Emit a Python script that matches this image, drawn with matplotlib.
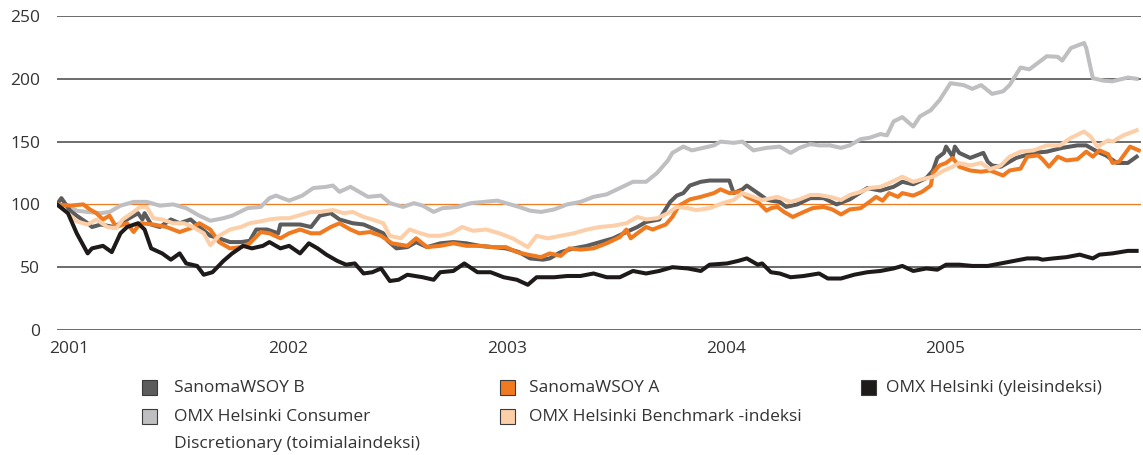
import matplotlib.pyplot as plt
from matplotlib.patches import Rectangle

plt.rcParams['font.family'] = ['Open Sans', 'DejaVu Sans']

# index values (2001 = 100), time in fractional years
omx_t = [2001.00, 2001.05, 2001.09, 2001.14, 2001.16, 2001.21, 2001.25, 2001.29, 2001.32, 2001.37,
         2001.40, 2001.43, 2001.48, 2001.52, 2001.56, 2001.59, 2001.64, 2001.67, 2001.71, 2001.76,
         2001.80, 2001.85, 2001.89, 2001.94, 2001.97, 2002.02, 2002.06, 2002.11, 2002.15, 2002.19,
         2002.23, 2002.28, 2002.32, 2002.36, 2002.40, 2002.44, 2002.48, 2002.52, 2002.56, 2002.60,
         2002.67, 2002.72, 2002.75, 2002.81, 2002.86, 2002.92, 2002.98, 2003.04, 2003.10, 2003.15,
         2003.19, 2003.27, 2003.33, 2003.39, 2003.45, 2003.51, 2003.57, 2003.63, 2003.69, 2003.75,
         2003.81, 2003.88, 2003.94, 2003.98, 2004.06, 2004.11, 2004.15, 2004.20, 2004.22, 2004.26,
         2004.30, 2004.35, 2004.41, 2004.48, 2004.52, 2004.58, 2004.64, 2004.70, 2004.76, 2004.82,
         2004.86, 2004.91, 2004.97, 2005.02, 2005.06, 2005.12, 2005.18, 2005.25, 2005.31, 2005.37,
         2005.43, 2005.48, 2005.50, 2005.55, 2005.61, 2005.67, 2005.73, 2005.76, 2005.82, 2005.89,
         2005.93]
omx_v = [100, 93, 77, 61, 65, 67, 62, 77, 82, 85,
         80, 65, 61, 56, 61, 53, 51, 44, 46, 55,
         61, 67, 65, 67, 70, 65, 67, 61, 69, 65,
         60, 55, 52, 53, 45, 46, 49, 39, 40, 44,
         42, 40, 46, 47, 53, 46, 46, 42, 40, 36,
         42, 42, 43, 43, 45, 42, 42, 47, 45, 47,
         50, 49, 47, 52, 53, 55, 57, 52, 53, 46,
         45, 42, 43, 45, 41, 41, 44, 46, 47, 49,
         51, 47, 49, 48, 52, 52, 51, 51, 53, 55,
         57, 57, 56, 57, 58, 60, 57, 60, 61, 63,
         63]

cd_t = [2001.00, 2001.05, 2001.09, 2001.14, 2001.20, 2001.24, 2001.29, 2001.35, 2001.41, 2001.47,
        2001.53, 2001.59, 2001.65, 2001.70, 2001.76, 2001.80, 2001.87, 2001.93, 2001.97, 2002.00,
        2002.06, 2002.12, 2002.17, 2002.23, 2002.26, 2002.29, 2002.34, 2002.38, 2002.42, 2002.48,
        2002.52, 2002.58, 2002.63, 2002.67, 2002.72, 2002.76, 2002.83, 2002.89, 2002.95, 2003.01,
        2003.07, 2003.11, 2003.16, 2003.21, 2003.27, 2003.33, 2003.39, 2003.45, 2003.51, 2003.57,
        2003.63, 2003.69, 2003.74, 2003.79, 2003.81, 2003.86, 2003.90, 2003.95, 2004.00, 2004.03,
        2004.09, 2004.13, 2004.18, 2004.24, 2004.30, 2004.35, 2004.39, 2004.44, 2004.48, 2004.53,
        2004.58, 2004.62, 2004.67, 2004.71, 2004.76, 2004.79, 2004.82, 2004.86, 2004.91, 2004.94,
        2004.99, 2005.03, 2005.08, 2005.14, 2005.18, 2005.22, 2005.27, 2005.32, 2005.35, 2005.40,
        2005.44, 2005.52, 2005.57, 2005.59, 2005.63, 2005.69, 2005.70, 2005.73, 2005.78, 2005.82,
        2005.89, 2005.93]
cd_v = [100, 99, 95, 94, 93, 94, 99, 102, 102, 99,
        100, 97, 91, 87, 89, 91, 97, 98, 105, 107,
        103, 107, 113, 114, 115, 110, 114, 110, 106, 107,
        101, 98, 101, 99, 94, 97, 98, 101, 102, 103,
        100, 98, 95, 94, 96, 100, 102, 106, 108, 113,
        118, 118, 125, 135, 141, 146, 143, 145, 147, 150,
        149, 150, 143, 145, 146, 141, 145, 148, 147, 147,
        145, 147, 152, 153, 156, 155, 166, 169.5, 162, 170,
        175, 183, 196.5, 195, 192, 195, 188, 190, 195, 209,
        207.5, 218, 217.5, 214.5, 224.5, 228.5, 224.5, 200.5, 198.5, 198,
        201, 200]

sw_b_t = [2001.00, 2001.02, 2001.06, 2001.09, 2001.14, 2001.16, 2001.20, 2001.26, 2001.30, 2001.35,
          2001.37, 2001.39, 2001.40, 2001.43, 2001.47, 2001.52, 2001.56, 2001.61, 2001.65, 2001.70,
          2001.74, 2001.79, 2001.84, 2001.88, 2001.91, 2001.96, 2002.01, 2002.02, 2002.06, 2002.11,
          2002.16, 2002.20, 2002.25, 2002.29, 2002.35, 2002.40, 2002.44, 2002.49, 2002.51, 2002.55,
          2002.60, 2002.64, 2002.69, 2002.75, 2002.81, 2002.87, 2002.93, 2002.99, 2003.05, 2003.11,
          2003.16, 2003.22, 2003.25, 2003.30, 2003.36, 2003.42, 2003.48, 2003.54, 2003.60, 2003.65,
          2003.69, 2003.75, 2003.80, 2003.83, 2003.86, 2003.89, 2003.94, 2003.98, 2004.03, 2004.07,
          2004.09, 2004.13, 2004.15, 2004.20, 2004.24, 2004.26, 2004.30, 2004.33, 2004.38, 2004.44,
          2004.50, 2004.56, 2004.62, 2004.70, 2004.76, 2004.82, 2004.86, 2004.91, 2004.97, 2005.00,
          2005.02, 2005.05, 2005.06, 2005.09, 2005.10, 2005.12, 2005.17, 2005.23, 2005.25, 2005.27,
          2005.31, 2005.38, 2005.46, 2005.52, 2005.59, 2005.66, 2005.70, 2005.75, 2005.79, 2005.84,
          2005.89, 2005.93]
sw_b_v = [100, 105, 95, 91, 85, 82, 84, 82, 86, 91,
          93, 88, 93, 84, 82, 88, 85, 88, 82, 75,
          73, 70, 70, 71, 80, 80, 77, 84, 84, 84,
          82, 91, 93, 88, 85, 84, 81, 77, 71, 65,
          66, 70, 66, 69, 70, 69, 67, 66, 65, 62,
          57, 56, 57, 62, 65, 67, 70, 73, 78, 82,
          86, 88, 102, 107, 109, 115, 118, 119, 119, 119,
          109, 112, 115, 109, 104, 103, 102, 98, 100, 105,
          105, 100, 104, 113, 111, 114, 118, 116, 121, 127,
          137, 141, 146, 138, 146, 141, 137, 141, 134, 131,
          130, 137, 141, 142, 145, 147, 147, 142, 139, 133,
          133, 138]

sw_a_t = [2001.00, 2001.06, 2001.12, 2001.15, 2001.18, 2001.21, 2001.24, 2001.27, 2001.32, 2001.35,
          2001.38, 2001.44, 2001.50, 2001.56, 2001.61, 2001.65, 2001.70, 2001.74, 2001.79, 2001.84,
          2001.88, 2001.93, 2001.97, 2002.02, 2002.06, 2002.11, 2002.16, 2002.20, 2002.25, 2002.29,
          2002.34, 2002.38, 2002.43, 2002.48, 2002.53, 2002.60, 2002.64, 2002.69, 2002.75, 2002.81,
          2002.87, 2002.93, 2002.99, 2003.05, 2003.10, 2003.15, 2003.21, 2003.25, 2003.30, 2003.34,
          2003.39, 2003.45, 2003.51, 2003.57, 2003.60, 2003.62, 2003.65, 2003.69, 2003.72, 2003.78,
          2003.81, 2003.84, 2003.89, 2003.94, 2004.00, 2004.03, 2004.07, 2004.12, 2004.15, 2004.20,
          2004.24, 2004.26, 2004.29, 2004.32, 2004.36, 2004.41, 2004.45, 2004.50, 2004.54, 2004.58,
          2004.62, 2004.67, 2004.71, 2004.74, 2004.77, 2004.80, 2004.84, 2004.86, 2004.91, 2004.95,
          2004.99, 2005.00, 2005.03, 2005.06, 2005.09, 2005.12, 2005.17, 2005.22, 2005.26, 2005.32,
          2005.35, 2005.40, 2005.43, 2005.48, 2005.50, 2005.53, 2005.57, 2005.61, 2005.66, 2005.70,
          2005.73, 2005.76, 2005.80, 2005.82, 2005.85, 2005.90, 2005.94]
sw_a_v = [100, 99, 100, 96, 93, 88, 91, 82, 85, 78,
          85, 84, 82, 78, 81, 85, 80, 70, 65, 66,
          69, 78, 77, 73, 77, 80, 77, 77, 82, 85,
          80, 77, 78, 75, 69, 67, 73, 66, 67, 69,
          67, 67, 66, 66, 62, 60, 58, 61, 59, 65,
          64, 65, 69, 74, 80, 73, 77, 82, 80, 84,
          90, 99, 104, 106, 109, 112, 109, 110, 106, 102,
          95, 97, 98, 94, 90, 94, 97, 98, 96, 92,
          96, 97, 102, 106, 103, 109, 106, 109, 107, 110,
          115, 125, 131, 133, 137, 130, 127, 126, 127, 123,
          127, 128.5, 138, 139, 136, 130, 138, 135, 136, 142,
          138, 143, 140, 133, 134, 146, 143]

bench_t = [2001.00, 2001.05, 2001.09, 2001.14, 2001.18, 2001.23, 2001.27, 2001.30, 2001.35, 2001.38,
           2001.41, 2001.44, 2001.48, 2001.53, 2001.58, 2001.62, 2001.67, 2001.70, 2001.74, 2001.79,
           2001.84, 2001.88, 2001.93, 2001.97, 2002.02, 2002.06, 2002.11, 2002.16, 2002.20, 2002.26,
           2002.31, 2002.35, 2002.40, 2002.44, 2002.49, 2002.52, 2002.57, 2002.61, 2002.66, 2002.70,
           2002.75, 2002.80, 2002.85, 2002.90, 2002.96, 2003.02, 2003.08, 2003.15, 2003.19, 2003.24,
           2003.30, 2003.36, 2003.42, 2003.48, 2003.54, 2003.60, 2003.65, 2003.69, 2003.74, 2003.79,
           2003.83, 2003.88, 2003.92, 2003.98, 2004.04, 2004.09, 2004.13, 2004.18, 2004.22, 2004.29,
           2004.35, 2004.39, 2004.44, 2004.48, 2004.53, 2004.58, 2004.62, 2004.67, 2004.71, 2004.76,
           2004.80, 2004.86, 2004.91, 2004.95, 2005.00, 2005.05, 2005.09, 2005.12, 2005.17, 2005.22,
           2005.26, 2005.31, 2005.35, 2005.40, 2005.46, 2005.52, 2005.58, 2005.63, 2005.69, 2005.72,
           2005.75, 2005.80, 2005.82, 2005.87, 2005.93]
bench_v = [100, 93, 86.5, 84, 88, 82, 81, 88, 94, 98,
           98, 89, 88, 85, 85, 82, 77, 67.5, 75, 80,
           82, 85, 86.5, 88, 89, 89, 91.5, 94, 94, 95.5,
           93, 94, 90, 88, 85, 75, 73, 80, 77, 75,
           75, 77, 82, 79, 80, 77, 73, 66, 75, 73,
           75, 77, 80, 82, 83, 85, 90, 88, 89, 93,
           98, 97, 95.5, 97, 101, 103.5, 109, 106, 103.5, 106,
           102, 104, 107.5, 107.5, 106, 103.5, 107.5, 110, 113, 114,
           117, 122, 118, 120, 122, 127, 130, 133, 131, 133,
           128, 131, 138, 142, 143, 147, 147, 153, 158, 154,
           146, 151, 150, 155, 159]

series = [
    ('OMX Helsinki Consumer\nDiscretionary (toimialaindeksi)', cd_t, cd_v, '#bfbfc2'),
    ('SanomaWSOY B', sw_b_t, sw_b_v, '#5c5c5c'),
    ('SanomaWSOY A', sw_a_t, sw_a_v, '#f07a20'),
    ('OMX Helsinki Benchmark -indeksi', bench_t, bench_v, '#fccfa8'),
    ('OMX Helsinki (yleisindeksi)', omx_t, omx_v, '#1e1a1a'),
]
y_ticks = [0, 50, 100, 150, 200, 250]
year_labels = ['2001', '2002', '2003', '2004', '2005']

W, H = 1143, 455
fig = plt.figure(figsize=(W / 100, H / 100), dpi=100)
ax = fig.add_axes([57 / W, 1 - 330 / H, (1141 - 57) / W, (330 - 16) / H])

for yv in y_ticks:
    if yv == 100:
        ax.axhline(yv, color='#f07a20', lw=0.9, zorder=1)
    else:
        ax.axhline(yv, color='#444444', lw=1.1, zorder=1)

for name, t, v, col in series:
    ax.plot(t, v, color=col, lw=2.9, solid_joinstyle='round', zorder=2)

ax.set_xlim(2001.0, 2005.95)
ax.set_ylim(0, 250)
ax.set_yticks(y_ticks)
ax.set_yticklabels([str(y) for y in y_ticks])
ax.set_xticks([int(y) + 0.055 for y in year_labels])
ax.set_xticklabels(year_labels)
ax.tick_params(axis='y', length=0, pad=12, labelsize=12.5, labelcolor='#333333')
ax.tick_params(axis='x', length=0, pad=8, labelsize=12.5, labelcolor='#333333')
for s in ax.spines.values():
    s.set_visible(False)

# legend, three columns laid out by hand: (marker x, marker top y, text x)
legend_slots = {
    'SanomaWSOY B': (142, 380, 174),
    'OMX Helsinki Consumer\nDiscretionary (toimialaindeksi)': (142, 409, 174),
    'SanomaWSOY A': (500, 380, 529),
    'OMX Helsinki Benchmark -indeksi': (500, 409, 529),
    'OMX Helsinki (yleisindeksi)': (861, 380, 886),
}
for name, t, v, col in series:
    px, py, tx = legend_slots[name]
    fig.add_artist(Rectangle((px / W, 1 - (py + 15) / H), 15 / W, 15 / H,
                             transform=fig.transFigure, facecolor=col,
                             edgecolor='#3a3a3a', lw=0.8))
    for i, line in enumerate(name.split('\n')):
        fig.text(tx / W, 1 - (py + 8 + 27 * i) / H, line, ha='left', va='center',
                 fontsize=12.5, color='#333333')

fig.savefig('out.png', dpi=100)
